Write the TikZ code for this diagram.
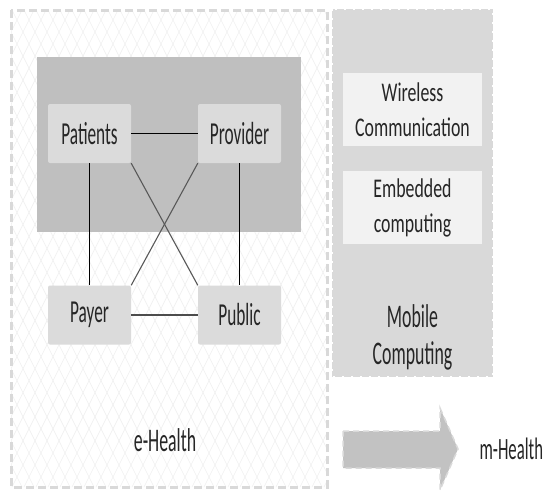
\documentclass[tikz,border=0pt]{standalone}
\usepackage{fontspec}
\setmainfont{Carlito}[FakeStretch=0.54]
\newfontfamily\techfont{Carlito}[FakeStretch=0.66]
\begin{document}
\begin{tikzpicture}[x=1pt,y=-1pt,
  txt/.style={text=black!85, font=\fontsize{32}{34}\selectfont},
  actor/.style={txt, fill=gray!28, rounded corners=2pt, minimum width=83pt, minimum height=59pt, inner sep=0pt},
  tech/.style={fill=gray!10, minimum width=139pt, minimum height=73pt, inner sep=0pt, align=center, text=black!85, font=\techfont\fontsize{27}{35}\selectfont},
  blackline/.style={draw=black, line width=0.8pt},
  boldline/.style={draw=black, line width=1.4pt},
  crossline/.style={draw=black!65, line width=1.1pt},
  dualline/.style={draw=black!70, line width=1.8pt}
]
\useasboundingbox (0,0) rectangle (553,490);
\fill[white] (0,0) rectangle (553,490);

% e-Health frame with diamond lattice
\begin{scope}
  \clip (11,10) rectangle (327,487);
  \foreach \i in {0,...,50} {
    \draw[gray!12, line width=0.6pt] ({-240+12*\i},487) -- ({-2+12*\i},10);
    \draw[gray!12, line width=0.6pt] ({-240+12*\i},10) -- ({-2+12*\i},487);
  }
\end{scope}
\draw[gray!30, line width=3pt, dash pattern=on 8pt off 4pt] (11,10) rectangle (327,487);

% inner gray area
\fill[gray!50] (37,57) rectangle (301,232);

% actors
\node[actor] (patients) at (89.5,133.5) {Patients};
\node[actor] (provider) at (239.5,133.5) {Provider};
\node[actor] (payer) at (89.5,315) {Payer};
\node[actor] (public) at (239.5,315) {Public};

\draw[boldline] (patients.east) -- (provider.west);
\draw[blackline] (patients.south) -- (payer.north);
\draw[blackline] (provider.south) -- (public.north);
\draw[crossline] (patients.south east) -- (public.north west);
\draw[crossline] (provider.south west) -- (payer.north east);
\draw[dualline] (payer.east) -- (public.west);

\node[txt, font=\fontsize{33}{35}\selectfont] (ehealth) at (165,440) {e-Health};

% mobile computing frame
\fill[gray!30] (332,9) rectangle (493,377);
\draw[white, line width=1.5pt, dash pattern=on 2pt off 7pt] (332,9) rectangle (493,377);
\node[tech] (wireless) at (412.5,109.5) {Wireless\\Communication};
\node[tech] (embedded) at (412.5,207.5) {Embedded\\computing};
\node[txt, align=center, font=\fontsize{33}{37}\selectfont] (mobile) at (412.5,337) {Mobile\\Computing};

% arrow
\fill[gray!48] (343,431) -- (440,431) -- (440,408) -- (458,449) -- (440,490) -- (440,468) -- (343,468) -- cycle;
\draw[gray!30, line width=1.5pt, dash pattern=on 6pt off 4pt] (343,431) -- (440,431) -- (440,408) -- (458,449) -- (440,490) -- (440,468) -- (343,468) -- cycle;
\node[txt, anchor=west, font=\fontsize{31}{33}\selectfont] (mhealth) at (476,449) {m-Health};
\end{tikzpicture}
\end{document}
